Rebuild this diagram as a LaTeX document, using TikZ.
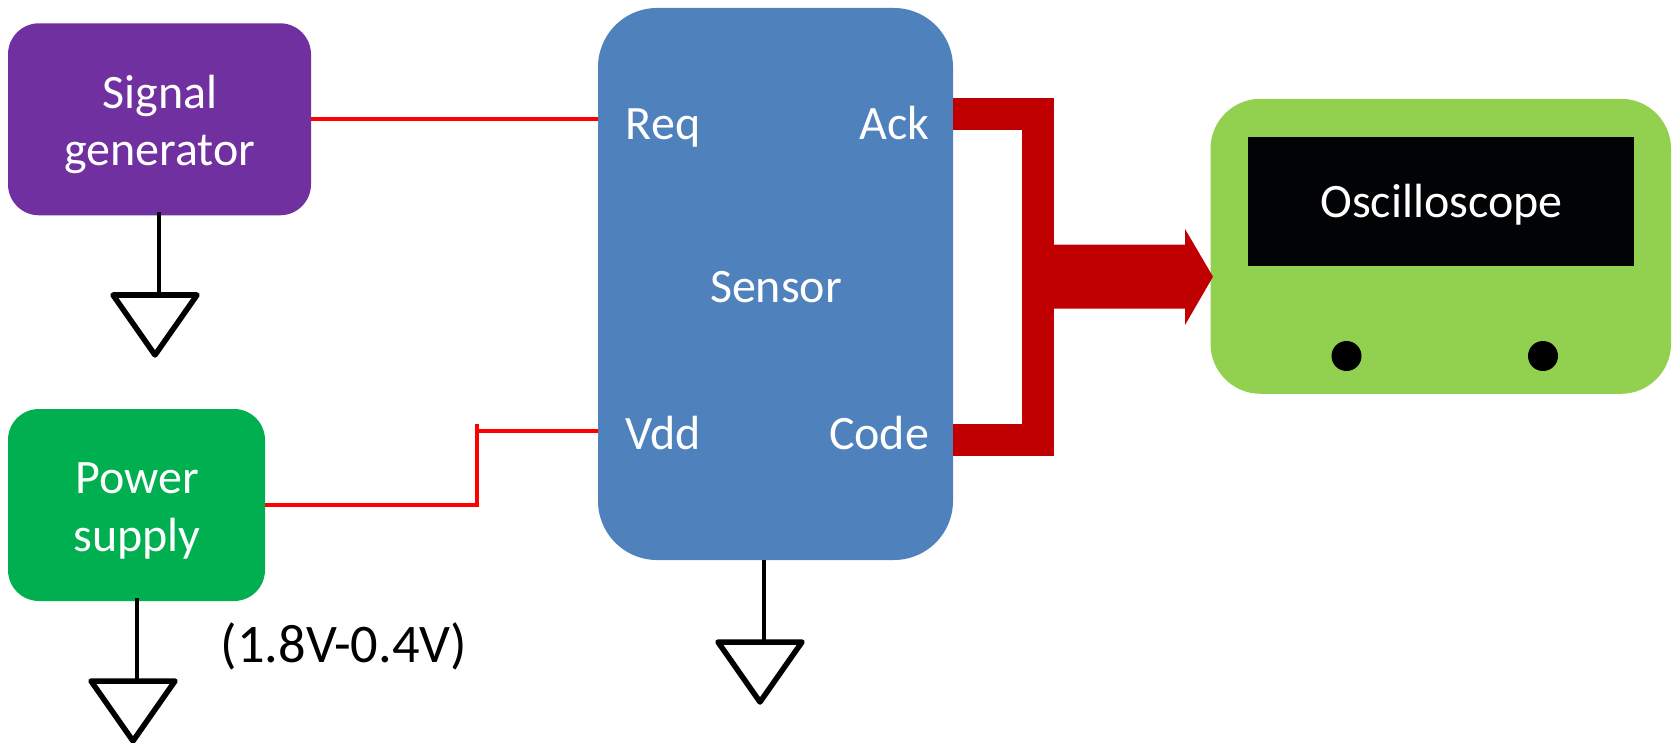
\documentclass[tikz,border=0pt]{standalone}
\usepackage{fontspec}
\setmainfont{Carlito}
\usetikzlibrary{calc,shapes.geometric}
\definecolor{cpurple}{HTML}{7030A0}
\definecolor{cblue}{HTML}{4F81BD}
\definecolor{cgreen}{HTML}{00B050}
\definecolor{clime}{HTML}{92D050}
\definecolor{cdark}{HTML}{C00000}
\definecolor{cred}{HTML}{FF0000}
\definecolor{cscreen}{HTML}{010305}
\tikzset{
  box/.style={rectangle,inner sep=0pt,outer sep=0pt,text=white,align=center,font=\fontsize{48}{57.5}\selectfont},
  lab/.style={inner sep=0pt,anchor=base,text=white,font=\fontsize{48}{57.5}\selectfont},
  wire/.style={draw=cred,line width=3.6pt},
  gndline/.style={draw=black,line width=4pt},
  gnd/.style={draw=black,fill=white,line width=5.5pt,line join=round},
  bus/.style={draw=cdark,line width=32pt,line join=miter},
  knob/.style={ellipse,fill=black,inner sep=0pt,minimum width=30pt,minimum height=30pt}
}
\begin{document}
\begin{tikzpicture}[x=1pt,y=-1pt]
\useasboundingbox (0,0) rectangle (1678,743);
% boxes
\node[box,fill=cpurple,rounded corners=31pt,minimum width=303pt,minimum height=192pt] (sg) at (159.5,119.3) {};
\node[box,fill=cgreen,rounded corners=31pt,minimum width=257pt,minimum height=192pt] (ps) at (136.5,505) {};
\node[box,fill=cblue,rounded corners=59pt,minimum width=355pt,minimum height=552pt] (sensor) at (775.5,284) {};
\node[box,fill=clime,rounded corners=50pt,minimum width=460.5pt,minimum height=295pt] (scope) at (1440.75,246.3) {};
\node[box,fill=cscreen,minimum width=386pt,minimum height=128.7pt] (screen) at (1441,201.3) {};
\node[knob] (k1) at (1346.5,356) {};
\node[knob] (k2) at (1543,356) {};
% texts
\node[lab] (t1) at (160,108.2) {Signal};
\node[lab] (t2) at (160,166) {generator};
\node[lab] (t3) at (137,493.7) {Power};
\node[lab] (t4) at (137,551) {supply};
\node[lab] (req) at (663,140) {Req};
\node[lab] (ack) at (894.5,140) {Ack};
\node[lab] (sens) at (776,302) {Sensor};
\node[lab] (vdd) at (663,449.5) {Vdd};
\node[lab] (code) at (879,449.5) {Code};
\node[lab] (osc) at (1441.5,217.7) {Oscilloscope};
\node[lab,text=black,font=\fontsize{54.4}{60}\selectfont] (volt) at (344,662.5) {(1.8V-0.4V)};
% red wires
\draw[wire] (sg.east) -- (sensor.west |- sg.east);
\coordinate (pw1) at (477,505);
\coordinate (pw2) at (477,424);
\coordinate (pw3) at (477,431);
\draw[wire] (ps.east) -- (pw1) -- (pw2);
\draw[wire] (pw3) -- (sensor.west |- pw3);
% grounds
\coordinate (g1) at (159,295);
\coordinate (g2) at (137,681);
\coordinate (g3) at (764,642);
\draw[gndline] ($(sg.south -| g1)+(0,-3)$) -- (g1);
\draw[gndline] ($(ps.south -| g2)+(0,-3)$) -- (g2);
\draw[gndline] (sensor.south -| g3) -- (g3);
\foreach \g in {g1,g2,g3}{
  \draw[gnd] (\g) ++(-46,0) -- ++(84,0) -- ++(-42,60) -- cycle;
}
% bus
\coordinate (b1) at (953,114.5);
\coordinate (b2) at (1037.5,114.5);
\coordinate (b3) at (1037.5,439.5);
\coordinate (b4) at (953,439.5);
\draw[bus] (sensor.east |- b1) -- (b2) -- (b3) -- (sensor.east |- b4);
\coordinate (tip) at (1213,276.7);
\fill[cdark] (1037,244.7) -- (1185,244.7) -- (1185,229) -- (tip) -- (1185,325) -- (1185,308.7) -- (1037,308.7) -- cycle;
\end{tikzpicture}
\end{document}
